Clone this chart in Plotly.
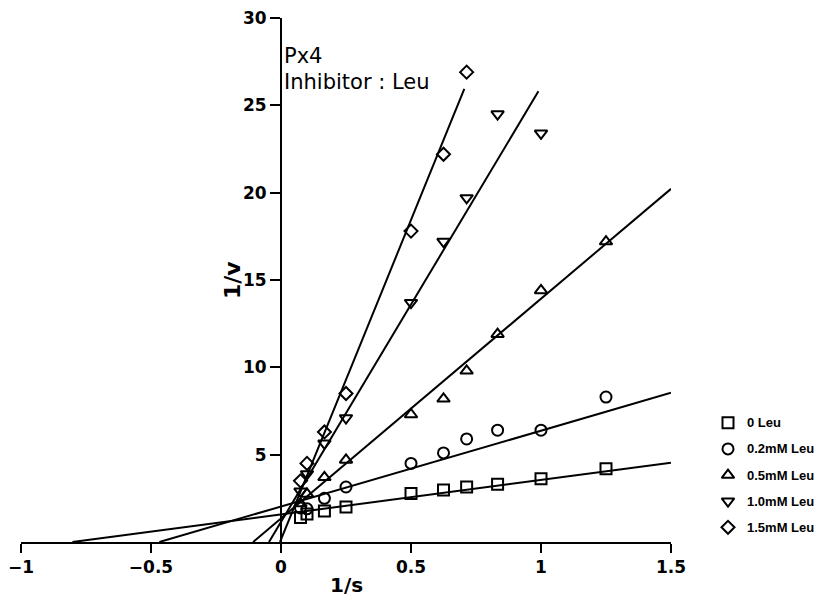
import plotly.graph_objects as go

# 1/s values
inv_s = [0.075, 0.1, 0.167, 0.25, 0.5, 0.625, 0.714, 0.833, 1.0, 1.25]

series_names = ["0 Leu", "0.2mM Leu", "0.5mM Leu", "1.0mM Leu", "1.5mM Leu"]
symbols = ["square-open", "circle-open", "triangle-up-open", "triangle-down-open", "diamond-open"]
marker_sizes = [11, 11, 11, 11, 10]

v_0 = [1.4, 1.6, 1.78, 2.0, 2.78, 2.98, 3.15, 3.3, 3.62, 4.2]
v_02 = [1.95, 1.9, 2.5, 3.15, 4.5, 5.1, 5.9, 6.4, 6.4, 8.3]
v_05 = [2.2, 2.75, 3.7, 4.7, 7.3, 8.2, 9.8, 11.9, 14.4, 17.2]
v_10 = [2.9, 3.9, 5.65, 7.1, 13.7, 17.2, 19.7, 24.5, 23.4]
v_15 = [3.5, 4.5, 6.3, 8.5, 17.8, 22.2, 26.9]
series_values = [v_0, v_02, v_05, v_10, v_15]

# fitted lines (slope, intercept, x end)
line_slopes = [1.97, 4.34, 12.58, 24.9, 36.6]
line_intercepts = [1.58, 2.03, 1.35, 1.15, 0.14]
line_xend = [1.5, 1.5, 1.5, 0.99, 0.705]

x_ticks = [-1, -0.5, 0, 0.5, 1, 1.5]
x_ticklabels = ["\u22121", "\u22120.5", "0", "0.5", "1", "1.5"]
y_ticks = [5, 10, 15, 20, 25, 30]

# ---- layout geometry (pixels) ----
W, H = 818, 598
ML, MR, MT, MB = 21, 0, 17.5, 55.5
PW, PH = W - ML - MR, H - MT - MB
X_RIGHT = 671  # pixel of x = 1.5
dom_r = (X_RIGHT - ML) / PW


def px(x):
    return (x - ML) / PW


def py(y):
    return (H - MB - y) / PH


fig = go.Figure()

for m, b, xe in zip(line_slopes, line_intercepts, line_xend):
    x0 = -b / m
    fig.add_trace(go.Scatter(x=[x0, xe], y=[0, m * xe + b], mode="lines",
                             line=dict(color="black", width=2), showlegend=False,
                             hoverinfo="skip"))

for name, sym, sz, vals in zip(series_names, symbols, marker_sizes, series_values):
    fig.add_trace(go.Scatter(x=inv_s[:len(vals)], y=vals, mode="markers", name=name,
                             showlegend=False,
                             marker=dict(symbol=sym, size=sz, color="black",
                                         line=dict(color="black", width=2)),
                             cliponaxis=False))

# manual legend on a second (non-overlaying) axis pair measured in pixels
leg_x = 728
leg_y0, leg_dy = 423, 26.2
for i, (name, sym, sz) in enumerate(zip(series_names, symbols, marker_sizes)):
    fig.add_trace(go.Scatter(x=[leg_x], y=[leg_y0 + i * leg_dy], mode="markers",
                             xaxis="x2", yaxis="y2", showlegend=False, hoverinfo="skip",
                             marker=dict(symbol=sym, size=sz, color="black",
                                         line=dict(color="black", width=2)),
                             cliponaxis=False))

annotations = [
    dict(text="Px4", x=0, y=28.65, xref="x", yref="y", xanchor="left", yanchor="top",
         xshift=1, showarrow=False,
         font=dict(family="DejaVu Sans", size=21, color="black")),
    dict(text="Inhibitor : Leu", x=0, y=27.15, xref="x", yref="y", xanchor="left",
         yanchor="top", xshift=1, showarrow=False,
         font=dict(family="DejaVu Sans", size=21, color="black")),
    dict(text="1/v", x=px(232), y=py(280), xref="paper", yref="paper", showarrow=False,
         xanchor="center", yanchor="middle", textangle=-90,
         font=dict(family="DejaVu Sans", size=22, color="black", weight="bold")),
    dict(text="1/s", x=px(346), y=py(586), xref="paper", yref="paper", showarrow=False,
         xanchor="center", yanchor="middle",
         font=dict(family="DejaVu Sans", size=20, color="black", weight="bold")),
]
for i, name in enumerate(series_names):
    annotations.append(dict(text=name, x=px(745), y=py(leg_y0 + i * leg_dy),
                            xref="paper", yref="paper", xanchor="left", yanchor="middle",
                            showarrow=False,
                            font=dict(family="Liberation Sans", size=13, color="black",
                                      weight="bold")))

tickfont = dict(family="DejaVu Sans", size=17, color="black", weight="bold")

fig.update_layout(
    width=W, height=H,
    margin=dict(l=ML, r=MR, t=MT, b=MB, autoexpand=False),
    paper_bgcolor="white", plot_bgcolor="rgba(0,0,0,0)",
    showlegend=False,
    xaxis=dict(domain=[0, dom_r], range=[-1, 1.5], tickvals=x_ticks, ticktext=x_ticklabels,
               showgrid=False, zeroline=False, showline=True, linecolor="black",
               linewidth=2, ticks="outside", ticklen=9, tickwidth=2, tickcolor="black",
               automargin=False, tickfont=tickfont),
    yaxis=dict(range=[0, 30], tickvals=y_ticks, showgrid=False, zeroline=False,
               showline=True, linecolor="black", linewidth=2, ticks="outside",
               ticklen=10, tickwidth=2, tickcolor="black",
               anchor="free", position=0.4 * dom_r, automargin=False,
               tickfont=tickfont),
    xaxis2=dict(domain=[0, 1], range=[ML, W], visible=False, anchor="y2",
                fixedrange=True),
    yaxis2=dict(domain=[0, 1], range=[H - MB, MT], visible=False, anchor="x2",
                fixedrange=True),
    annotations=annotations,
)

fig.write_html("out.html", config={"displayModeBar": False},
               post_script="document.body.style.margin='0';"
                           "document.body.style.overflow='hidden';")
